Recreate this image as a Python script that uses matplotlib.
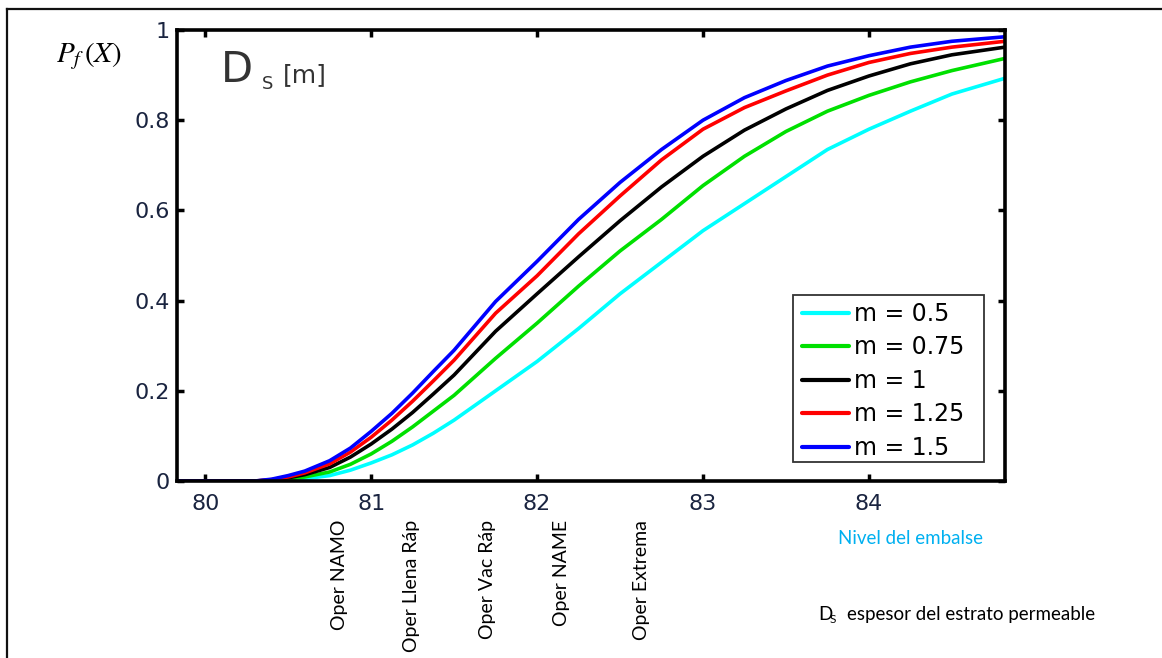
import matplotlib
matplotlib.use("Agg")
import matplotlib.pyplot as plt
from matplotlib.lines import Line2D
from matplotlib.patches import Rectangle

# ---- data ----
nivel = [79.83, 80.0, 80.3, 80.4, 80.5, 80.6, 80.75, 80.875, 81.0, 81.125, 81.25,
         81.375, 81.5, 81.75, 82.0, 82.25, 82.5, 82.75, 83.0, 83.25, 83.5, 83.75,
         84.0, 84.25, 84.5, 84.82]
pf_m050 = [0, 0, 0, 0.000, 0.002, 0.005, 0.012, 0.024, 0.040, 0.058, 0.080,
           0.106, 0.135, 0.200, 0.265, 0.338, 0.415, 0.485, 0.555, 0.615, 0.675,
           0.735, 0.780, 0.820, 0.858, 0.893]
pf_m075 = [0, 0, 0, 0.001, 0.004, 0.009, 0.020, 0.037, 0.060, 0.088, 0.120,
           0.155, 0.190, 0.272, 0.350, 0.432, 0.510, 0.580, 0.655, 0.720, 0.775,
           0.820, 0.855, 0.885, 0.910, 0.937]
pf_m100 = [0, 0, 0, 0.002, 0.007, 0.014, 0.030, 0.053, 0.082, 0.115, 0.152,
           0.193, 0.235, 0.332, 0.415, 0.497, 0.577, 0.652, 0.720, 0.778, 0.825,
           0.866, 0.898, 0.925, 0.945, 0.962]
pf_m125 = [0, 0, 0, 0.003, 0.009, 0.018, 0.038, 0.064, 0.097, 0.135, 0.177,
           0.222, 0.268, 0.372, 0.455, 0.548, 0.632, 0.712, 0.780, 0.828, 0.865,
           0.900, 0.928, 0.948, 0.962, 0.975]
pf_m150 = [0, 0, 0, 0.004, 0.012, 0.022, 0.045, 0.073, 0.110, 0.150, 0.195,
           0.243, 0.290, 0.398, 0.487, 0.580, 0.662, 0.735, 0.800, 0.850, 0.888,
           0.920, 0.943, 0.962, 0.975, 0.985]
series_labels = ["m = 0.5", "m = 0.75", "m = 1", "m = 1.25", "m = 1.5"]
series_colors = ["#00FFFF", "#00E000", "#000000", "#FF0000", "#0000FF"]
xticks = [80, 81, 82, 83, 84]
yticks = [0, 0.2, 0.4, 0.6, 0.8, 1]
ytick_labels = ["0", "0.2", "0.4", "0.6", "0.8", "1"]
oper_labels = ["Oper NAMO", "Oper Llena Ráp", "Oper Vac Ráp", "Oper NAME", "Oper Extrema"]
oper_xpix = [340, 412, 488, 562, 642]

W, H = 1162, 658
plt.rcParams["mathtext.fontset"] = "stix"
fig = plt.figure(figsize=(W / 100, H / 100), dpi=100)
fig.patch.set_facecolor("white")

def fx(px):
    return px / W

def fy(py):
    return 1 - py / H

ax = fig.add_axes([fx(177), fy(481), fx(1005) - fx(177), fy(30) - fy(481)])
all_series = [pf_m050, pf_m075, pf_m100, pf_m125, pf_m150]
for vals, lab, col in zip(all_series, series_labels, series_colors):
    ax.plot(nivel, vals, color=col, lw=2.6, label=lab, solid_capstyle="round")

ax.set_xlim(79.83, 84.82)
ax.set_ylim(0, 1)
ax.set_xticks(xticks)
ax.set_xticklabels([str(v) for v in xticks])
ax.set_yticks(yticks)
ax.set_yticklabels(ytick_labels)
tick_color = "#1a2440"
ax.tick_params(axis="both", direction="in", length=5, width=2.5,
               top=True, right=True, labelsize=16, labelcolor=tick_color,
               labelfontfamily="DejaVu Sans")
ax.tick_params(axis="x", pad=9)
ax.tick_params(axis="y", pad=5)
for sp in ax.spines.values():
    sp.set_linewidth(2.6)
    sp.set_color("black")

# Legend: content anchored in figure pixels, frame drawn separately
leg = ax.legend(loc="upper left", bbox_to_anchor=(fx(802), fy(302)),
                bbox_transform=fig.transFigure,
                borderaxespad=0, frameon=False,
                prop={"family": "DejaVu Sans", "size": 17},
                handlelength=2.0, handletextpad=0.22, labelspacing=0.4,
                borderpad=0)
for h in leg.get_lines():
    h.set_linewidth(3)
frame = Rectangle((fx(793), fy(462)), fx(984) - fx(793), fy(295) - fy(462),
                  transform=fig.transFigure, facecolor="white",
                  edgecolor="#333333", lw=1.3, zorder=4)
ax.add_artist(frame)
frame.set_clip_on(False)
leg.set_zorder(5)

# Title inside axes: D_S [m]
tcol = "#333333"
fig.text(fx(221), fy(82), "D", fontsize=30, family="DejaVu Sans",
         color=tcol, va="baseline", ha="left")
fig.text(fx(262), fy(89), "S", fontsize=13, family="DejaVu Sans",
         color=tcol, va="baseline", ha="left")
fig.text(fx(283), fy(82), "[m]", fontsize=18, family="DejaVu Sans",
         color=tcol, va="baseline", ha="left")

# Y label
fig.text(fx(56), fy(62), r"$P_f\,(X)$", fontsize=21, va="baseline", ha="left",
         color="black")

# Operation labels
for lab, xp in zip(oper_labels, oper_xpix):
    fig.text(fx(xp), fy(520), lab, rotation=90, ha="center", va="top",
             fontsize=14, family="Lato", color="black")

fig.text(fx(838), fy(544), "Nivel del embalse", fontsize=13.5, family="Lato",
         color="#00B0F0", ha="left", va="baseline")

fig.text(fx(818), fy(620), "D", fontsize=13.5, family="Lato", color="black",
         ha="left", va="baseline")
fig.text(fx(830), fy(623), "S", fontsize=8.5, family="Lato", color="black",
         ha="left", va="baseline")
fig.text(fx(847), fy(620), "espesor del estrato permeable", fontsize=13.5,
         family="Lato", color="black", ha="left", va="baseline")

# Frame lines (top and left)
fig.add_artist(Line2D([fx(7), 1.0], [fy(9), fy(9)], color="#111111", lw=1.6,
                      transform=fig.transFigure))
fig.add_artist(Line2D([fx(7), fx(7)], [fy(9), 0.0], color="#111111", lw=1.6,
                      transform=fig.transFigure))

fig.savefig("out.png", dpi=100, facecolor="white")
